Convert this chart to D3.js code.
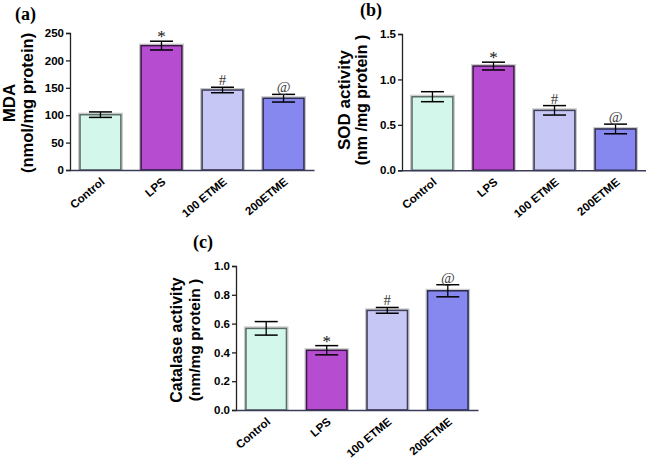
<!DOCTYPE html>
<html>
<head>
<meta charset="utf-8">
<script src="https://cdn.jsdelivr.net/npm/d3@7"></script>
<style>
  html, body { margin: 0; padding: 0; background: #fff; }
  svg { display: block; }
  .ytick .tick text { font-family: "Liberation Sans", Arial, sans-serif; font-weight: bold; font-size: 11.5px; fill: #000; }
  .xtick .tick text { font-family: "Liberation Sans", Arial, sans-serif; font-weight: bold; font-size: 11.5px; fill: #000; }
</style>
</head>
<body>
<svg id="chart" width="646" height="460"></svg>
<script>
// ---- Data ----
const categories = ["Control", "LPS", "100 ETME", "200ETME"];
const signif = ["", "*", "#", "@"];

const mdaMean = [101, 227, 146, 131];
const mdaErr  = [5, 8, 5, 7];
const mdaTicks = [0, 50, 100, 150, 200, 250];

const sodMean = [0.81, 1.147, 0.66, 0.455];
const sodErr  = [0.055, 0.043, 0.052, 0.053];
const sodTicks = [0.0, 0.5, 1.0, 1.5];

const catMean = [0.567, 0.415, 0.692, 0.828];
const catErr  = [0.047, 0.032, 0.020, 0.042];
const catTicks = [0.0, 0.2, 0.4, 0.6, 0.8, 1.0];

const fills   = ["#d3f7ea", "#b64dd0", "#c6c7f5", "#8788ef"];
const strokes = ["#5d6e66", "#3a1744", "#3d3d56", "#2d2d52"];

// ---- Layout ----
const svg = d3.select("#chart");

const panels = [
  { label: "(a)", lx: 15, ly: 20, x0: 70, x1: 314, y0: 170, y1: 33, max: 250,
    mean: mdaMean, err: mdaErr, ticks: mdaTicks, fmt: d3.format("d"),
    t1: "MDA", t2: "(nmol/mg protein)", t1x: 15, t2x: 32.5, tcy: 103, f1: 17, f2: 16.5 },
  { label: "(b)", lx: 360, ly: 16, x0: 402, x1: 646, y0: 170.3, y1: 34, max: 1.5,
    mean: sodMean, err: sodErr, ticks: sodTicks, fmt: d3.format(".1f"),
    t1: "SOD activity", t2: "(nm /mg protein )", t1x: 350, t2x: 367, tcy: 100, f1: 17, f2: 16 },
  { label: "(c)", lx: 193, ly: 248, x0: 236, x1: 478, y0: 410, y1: 266, max: 1.0,
    mean: catMean, err: catErr, ticks: catTicks, fmt: d3.format(".1f"),
    t1: "Catalase activity", t2: "(nm/mg protein )", t1x: 182, t2x: 200, tcy: 340, f1: 16, f2: 15.5 }
];

panels.forEach(p => {
  const g = svg.append("g");
  const x = d3.scaleBand().domain(categories).range([p.x0, p.x1])
    .paddingInner(0.33).paddingOuter(0.164);
  const y = d3.scaleLinear().domain([0, p.max]).range([p.y0, p.y1]);

  // bars
  const data = categories.map((c, i) => ({ c, i, m: p.mean[i], e: p.err[i], s: signif[i] }));
  g.selectAll("rect.halo").data(data).enter().append("rect")
    .attr("x", d => x(d.c) - 1.5).attr("y", d => y(d.m) - 1.5)
    .attr("width", x.bandwidth() + 3).attr("height", d => p.y0 - y(d.m) + 1.5)
    .attr("fill", "none").attr("stroke", "#c9c9c9").attr("stroke-width", 1);
  g.selectAll("rect.bar").data(data).enter().append("rect")
    .attr("x", d => x(d.c)).attr("y", d => y(d.m))
    .attr("width", x.bandwidth()).attr("height", d => p.y0 - y(d.m))
    .attr("fill", d => fills[d.i]).attr("stroke", d => strokes[d.i]).attr("stroke-width", 1.6);

  // error bars
  const cap = 11.5;
  data.forEach(d => {
    const cx = x(d.c) + x.bandwidth() / 2;
    const yt = y(d.m + d.e), yb = y(d.m - d.e);
    g.append("line").attr("x1", cx).attr("x2", cx).attr("y1", yt).attr("y2", yb)
      .attr("stroke", "#000").attr("stroke-width", 1.3);
    [yt, yb].forEach(yy => g.append("line").attr("x1", cx - cap).attr("x2", cx + cap)
      .attr("y1", yy).attr("y2", yy).attr("stroke", "#000").attr("stroke-width", 1.5));
    if (d.s) {
      g.append("text").attr("x", cx)
        .attr("y", d.s === "*" ? yt + 1 : yt - 2)
        .attr("text-anchor", "middle")
        .attr("fill", d.s === "*" ? "#111" : "#3a3a3a")
        .style("font-family", "'Liberation Serif', 'Times New Roman', serif")
        .style("font-size", d.s === "*" ? "17px" : "15px")
        .text(d.s);
    }
  });

  // y axis
  const ya = g.append("g").attr("class", "ytick").attr("transform", `translate(${p.x0},0)`)
    .call(d3.axisLeft(y).tickValues(p.ticks).tickFormat(p.fmt).tickSize(4).tickPadding(2));
  ya.select(".domain").attr("stroke", "#222").attr("stroke-width", 1.3);
  ya.selectAll(".tick line").attr("stroke", "#222").attr("stroke-width", 1.3);

  // x axis
  const xa = g.append("g").attr("class", "xtick").attr("transform", `translate(0,${p.y0})`)
    .call(d3.axisBottom(x).tickSize(0).tickSizeOuter(0).tickPadding(0));
  xa.select(".domain").attr("stroke", "#3a3a5a").attr("stroke-width", 1.5);
  xa.selectAll(".tick text")
    .attr("text-anchor", "end")
    .attr("dy", 0)
    .attr("transform", "translate(5,13) rotate(-40)");

  // y titles
  g.append("text").attr("transform", `translate(${p.t1x},${p.tcy}) rotate(-90)`)
    .attr("text-anchor", "middle")
    .style("font-family", "'Liberation Sans', Arial, sans-serif").style("font-weight", "bold")
    .style("font-size", p.f1 + "px").text(p.t1);
  g.append("text").attr("transform", `translate(${p.t2x},${p.tcy}) rotate(-90)`)
    .attr("text-anchor", "middle")
    .style("font-family", "'Liberation Sans', Arial, sans-serif").style("font-weight", "bold")
    .style("font-size", p.f2 + "px").text(p.t2);

  // panel label
  g.append("text").attr("x", p.lx).attr("y", p.ly)
    .style("font-family", "'Liberation Serif', 'Times New Roman', serif").style("font-weight", "bold")
    .style("font-size", "18px").text(p.label);
});
</script>
</body>
</html>
